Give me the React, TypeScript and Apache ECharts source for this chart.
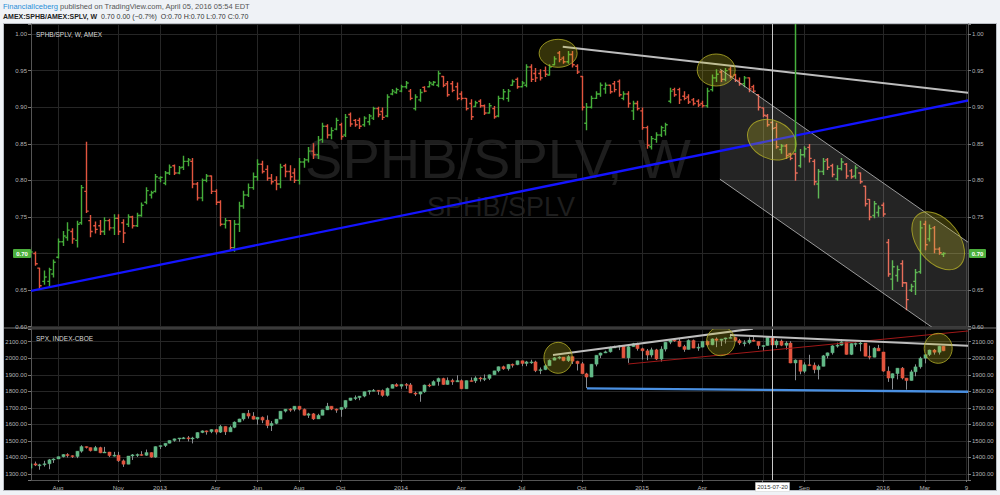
import React, { useEffect, useRef } from 'react';
import * as echarts from 'echarts';

// ---------------- DATA ----------------
const START_WEEK = '2012-06-25';

// SPHB/SPLV weekly bars: [open, high, low, close]
const ratioOHLC: number[][] = [
  [0.700, 0.708, 0.695, 0.702], [0.700, 0.702, 0.684, 0.686], [0.680, 0.680, 0.652, 0.656], [0.662, 0.676, 0.658, 0.668],
  [0.662, 0.680, 0.655, 0.678], [0.672, 0.691, 0.668, 0.688], [0.695, 0.720, 0.694, 0.716], [0.716, 0.730, 0.711, 0.724],
  [0.722, 0.742, 0.718, 0.732], [0.730, 0.734, 0.714, 0.720], [0.718, 0.744, 0.709, 0.740], [0.742, 0.793, 0.740, 0.790],
  [0.785, 0.852, 0.756, 0.758], [0.745, 0.752, 0.723, 0.730], [0.738, 0.743, 0.728, 0.733], [0.738, 0.745, 0.726, 0.730],
  [0.730, 0.749, 0.726, 0.745], [0.745, 0.747, 0.732, 0.735], [0.735, 0.753, 0.726, 0.748], [0.748, 0.753, 0.726, 0.730],
  [0.742, 0.746, 0.715, 0.728], [0.740, 0.753, 0.737, 0.750], [0.750, 0.751, 0.735, 0.738], [0.738, 0.755, 0.737, 0.752],
  [0.752, 0.769, 0.751, 0.766], [0.770, 0.790, 0.768, 0.786], [0.780, 0.785, 0.776, 0.783], [0.785, 0.808, 0.784, 0.805],
  [0.803, 0.805, 0.798, 0.804], [0.796, 0.812, 0.794, 0.810], [0.810, 0.821, 0.808, 0.818], [0.820, 0.821, 0.808, 0.810],
  [0.810, 0.819, 0.809, 0.817], [0.818, 0.833, 0.815, 0.826], [0.826, 0.830, 0.820, 0.828], [0.826, 0.830, 0.790, 0.795],
  [0.795, 0.797, 0.773, 0.776], [0.776, 0.802, 0.772, 0.800], [0.800, 0.808, 0.798, 0.806], [0.806, 0.806, 0.782, 0.785],
  [0.785, 0.787, 0.767, 0.770], [0.770, 0.772, 0.738, 0.740], [0.740, 0.748, 0.735, 0.745], [0.745, 0.745, 0.705, 0.708],
  [0.708, 0.745, 0.703, 0.740], [0.740, 0.770, 0.730, 0.765], [0.765, 0.785, 0.762, 0.780], [0.780, 0.795, 0.778, 0.790],
  [0.790, 0.810, 0.788, 0.805], [0.805, 0.828, 0.800, 0.822], [0.822, 0.826, 0.810, 0.812], [0.815, 0.820, 0.800, 0.803],
  [0.803, 0.808, 0.795, 0.798], [0.800, 0.805, 0.787, 0.795], [0.795, 0.822, 0.790, 0.818], [0.820, 0.822, 0.805, 0.812],
  [0.812, 0.820, 0.800, 0.805], [0.810, 0.816, 0.797, 0.800], [0.800, 0.830, 0.795, 0.825], [0.825, 0.830, 0.818, 0.828],
  [0.828, 0.845, 0.825, 0.840], [0.840, 0.850, 0.830, 0.835], [0.835, 0.860, 0.830, 0.855], [0.856, 0.878, 0.852, 0.874],
  [0.874, 0.876, 0.858, 0.862], [0.862, 0.872, 0.857, 0.868], [0.870, 0.885, 0.869, 0.882], [0.876, 0.878, 0.856, 0.860],
  [0.862, 0.890, 0.860, 0.886], [0.890, 0.892, 0.874, 0.877], [0.882, 0.883, 0.874, 0.876], [0.882, 0.885, 0.871, 0.874],
  [0.876, 0.887, 0.874, 0.885], [0.880, 0.890, 0.876, 0.888], [0.885, 0.900, 0.883, 0.898], [0.898, 0.900, 0.887, 0.890],
  [0.894, 0.899, 0.883, 0.886], [0.888, 0.917, 0.887, 0.914], [0.918, 0.924, 0.917, 0.922], [0.920, 0.926, 0.919, 0.924],
  [0.922, 0.930, 0.921, 0.928], [0.928, 0.935, 0.926, 0.933], [0.922, 0.924, 0.910, 0.912], [0.898, 0.917, 0.896, 0.914],
  [0.910, 0.924, 0.908, 0.920], [0.927, 0.928, 0.921, 0.922], [0.928, 0.935, 0.928, 0.933], [0.931, 0.935, 0.930, 0.934],
  [0.930, 0.949, 0.928, 0.946], [0.942, 0.942, 0.928, 0.930], [0.932, 0.935, 0.915, 0.917], [0.932, 0.935, 0.921, 0.923],
  [0.928, 0.933, 0.910, 0.912], [0.918, 0.921, 0.910, 0.912], [0.912, 0.912, 0.896, 0.898], [0.905, 0.910, 0.883, 0.887],
  [0.901, 0.908, 0.901, 0.906], [0.908, 0.910, 0.900, 0.902], [0.902, 0.903, 0.890, 0.892], [0.892, 0.905, 0.892, 0.902],
  [0.898, 0.901, 0.885, 0.887], [0.888, 0.915, 0.887, 0.912], [0.912, 0.924, 0.910, 0.921], [0.912, 0.924, 0.908, 0.922],
  [0.930, 0.937, 0.930, 0.935], [0.938, 0.940, 0.926, 0.928], [0.928, 0.935, 0.928, 0.933], [0.930, 0.958, 0.928, 0.955],
  [0.955, 0.958, 0.935, 0.938], [0.946, 0.953, 0.935, 0.940], [0.946, 0.951, 0.937, 0.940], [0.950, 0.955, 0.942, 0.945],
  [0.944, 0.958, 0.944, 0.955], [0.958, 0.969, 0.958, 0.966], [0.974, 0.976, 0.962, 0.965], [0.967, 0.969, 0.960, 0.962],
  [0.962, 0.976, 0.960, 0.972], [0.972, 0.976, 0.955, 0.958], [0.956, 0.958, 0.946, 0.948], [0.942, 0.942, 0.896, 0.900],
  [0.878, 0.905, 0.869, 0.900], [0.900, 0.915, 0.899, 0.912], [0.912, 0.921, 0.912, 0.918], [0.918, 0.933, 0.915, 0.930],
  [0.925, 0.933, 0.919, 0.930], [0.930, 0.930, 0.919, 0.921], [0.932, 0.935, 0.921, 0.924], [0.935, 0.937, 0.915, 0.917],
  [0.912, 0.921, 0.910, 0.918], [0.918, 0.921, 0.900, 0.905], [0.895, 0.908, 0.883, 0.905], [0.905, 0.908, 0.896, 0.898],
  [0.895, 0.899, 0.870, 0.872], [0.872, 0.874, 0.844, 0.848], [0.846, 0.860, 0.843, 0.857], [0.856, 0.865, 0.852, 0.862],
  [0.862, 0.874, 0.860, 0.872], [0.868, 0.878, 0.862, 0.876], [0.908, 0.926, 0.906, 0.922], [0.924, 0.926, 0.915, 0.917],
  [0.924, 0.926, 0.905, 0.910], [0.915, 0.921, 0.910, 0.912], [0.914, 0.917, 0.905, 0.907], [0.910, 0.912, 0.903, 0.905],
  [0.908, 0.910, 0.901, 0.903], [0.905, 0.908, 0.900, 0.902], [0.902, 0.926, 0.900, 0.922], [0.924, 0.944, 0.922, 0.940],
  [0.940, 0.951, 0.935, 0.945], [0.948, 0.950, 0.935, 0.938], [0.938, 0.953, 0.936, 0.950], [0.952, 0.955, 0.940, 0.942],
  [0.944, 0.945, 0.935, 0.937], [0.936, 0.940, 0.930, 0.932], [0.932, 0.942, 0.928, 0.940], [0.940, 0.940, 0.921, 0.925],
  [0.928, 0.930, 0.920, 0.922], [0.917, 0.917, 0.896, 0.900], [0.899, 0.899, 0.887, 0.889], [0.888, 0.890, 0.874, 0.876],
  [0.879, 0.880, 0.869, 0.871], [0.872, 0.878, 0.844, 0.846], [0.842, 0.849, 0.837, 0.847], [0.847, 0.849, 0.830, 0.834],
  [0.836, 0.837, 0.828, 0.830], [0.836, 0.837, 0.800, 0.810], [0.820, 0.842, 0.818, 0.835], [0.835, 0.846, 0.832, 0.843],
  [0.845, 0.849, 0.825, 0.830], [0.826, 0.828, 0.794, 0.798], [0.795, 0.815, 0.776, 0.812], [0.812, 0.830, 0.808, 0.826],
  [0.828, 0.830, 0.815, 0.818], [0.820, 0.822, 0.805, 0.808], [0.802, 0.820, 0.800, 0.816], [0.816, 0.830, 0.814, 0.825],
  [0.822, 0.823, 0.803, 0.806], [0.813, 0.815, 0.803, 0.805], [0.806, 0.820, 0.803, 0.817], [0.810, 0.810, 0.796, 0.798],
  [0.792, 0.792, 0.765, 0.768], [0.774, 0.774, 0.746, 0.750], [0.752, 0.771, 0.749, 0.768], [0.756, 0.765, 0.751, 0.762],
  [0.766, 0.769, 0.751, 0.754], [0.715, 0.719, 0.669, 0.672], [0.665, 0.690, 0.651, 0.682], [0.670, 0.683, 0.662, 0.678],
  [0.686, 0.690, 0.655, 0.660], [0.660, 0.660, 0.623, 0.637], [0.650, 0.658, 0.648, 0.655], [0.662, 0.678, 0.644, 0.674],
  [0.675, 0.744, 0.673, 0.735], [0.740, 0.744, 0.705, 0.712], [0.720, 0.739, 0.717, 0.734], [0.735, 0.737, 0.701, 0.706],
  [0.706, 0.708, 0.699, 0.701], [0.699, 0.701, 0.696, 0.700],
];

// SPX weekly candles: [open, high, low, close]
const spxOHLC: number[][] = [
  [1335, 1363, 1325, 1362], [1362, 1375, 1348, 1354], [1354, 1362, 1326, 1356], [1356, 1380, 1345, 1362],
  [1362, 1391, 1329, 1386], [1386, 1395, 1367, 1391], [1391, 1405, 1391, 1405], [1405, 1420, 1400, 1418],
  [1418, 1426, 1400, 1411], [1411, 1413, 1397, 1406], [1406, 1438, 1396, 1438], [1438, 1474, 1429, 1466],
  [1466, 1467, 1454, 1460], [1460, 1460, 1436, 1441], [1441, 1470, 1441, 1460], [1460, 1465, 1426, 1428],
  [1428, 1464, 1428, 1433], [1433, 1434, 1403, 1411], [1411, 1434, 1406, 1414], [1414, 1434, 1373, 1380],
  [1380, 1388, 1343, 1359], [1359, 1409, 1359, 1409], [1409, 1421, 1385, 1416], [1416, 1424, 1403, 1418],
  [1418, 1438, 1410, 1413], [1413, 1448, 1410, 1430], [1430, 1431, 1398, 1402], [1402, 1467, 1398, 1466],
  [1466, 1472, 1451, 1472], [1472, 1486, 1463, 1486], [1486, 1503, 1485, 1503], [1503, 1514, 1495, 1513],
  [1513, 1518, 1495, 1518], [1518, 1524, 1512, 1519], [1519, 1530, 1497, 1516], [1516, 1525, 1485, 1518],
  [1518, 1552, 1514, 1551], [1551, 1564, 1547, 1561], [1561, 1563, 1538, 1556], [1556, 1570, 1547, 1569],
  [1569, 1573, 1539, 1553], [1553, 1597, 1548, 1588], [1588, 1588, 1536, 1555], [1555, 1592, 1555, 1582],
  [1582, 1618, 1577, 1614], [1614, 1634, 1614, 1633], [1633, 1667, 1623, 1667], [1667, 1687, 1635, 1650],
  [1650, 1674, 1630, 1631], [1631, 1644, 1598, 1643], [1643, 1648, 1608, 1626], [1626, 1654, 1577, 1593],
  [1593, 1620, 1560, 1606], [1606, 1632, 1601, 1632], [1632, 1680, 1632, 1680], [1680, 1693, 1672, 1692],
  [1692, 1698, 1676, 1691], [1691, 1710, 1679, 1710], [1710, 1710, 1684, 1691], [1691, 1696, 1654, 1655],
  [1655, 1670, 1639, 1664], [1664, 1669, 1627, 1633], [1633, 1664, 1633, 1655], [1655, 1689, 1655, 1688],
  [1688, 1730, 1687, 1710], [1710, 1710, 1686, 1692], [1692, 1696, 1670, 1690], [1690, 1703, 1646, 1703],
  [1703, 1745, 1693, 1745], [1745, 1760, 1743, 1760], [1760, 1775, 1747, 1762], [1762, 1771, 1746, 1771],
  [1771, 1798, 1764, 1798], [1798, 1805, 1780, 1804], [1804, 1814, 1800, 1806], [1806, 1808, 1779, 1805],
  [1805, 1811, 1767, 1775], [1775, 1823, 1768, 1818], [1818, 1844, 1818, 1841], [1841, 1849, 1827, 1831],
  [1831, 1843, 1815, 1842], [1842, 1850, 1815, 1839], [1839, 1850, 1790, 1790], [1790, 1798, 1772, 1783],
  [1783, 1798, 1737, 1797], [1797, 1841, 1791, 1838], [1838, 1847, 1825, 1836], [1836, 1867, 1836, 1859],
  [1859, 1883, 1834, 1878], [1878, 1882, 1839, 1841], [1841, 1884, 1840, 1866], [1866, 1876, 1839, 1857],
  [1857, 1897, 1857, 1865], [1865, 1872, 1814, 1815], [1815, 1865, 1815, 1865], [1865, 1884, 1859, 1863],
  [1863, 1891, 1850, 1881], [1881, 1888, 1859, 1878], [1878, 1902, 1862, 1878], [1878, 1901, 1868, 1900],
  [1900, 1924, 1900, 1924], [1924, 1950, 1915, 1949], [1949, 1955, 1930, 1936], [1936, 1964, 1925, 1963],
  [1963, 1968, 1944, 1961], [1961, 1985, 1958, 1985], [1985, 1985, 1952, 1968], [1968, 1984, 1952, 1978],
  [1978, 1991, 1966, 1978], [1978, 1985, 1916, 1925], [1925, 1944, 1904, 1931], [1931, 1964, 1928, 1955],
  [1955, 1993, 1955, 1988], [1988, 2006, 1988, 2003], [2003, 2012, 1993, 2007], [2007, 2007, 1982, 1985],
  [1985, 2019, 1978, 2010], [2010, 2010, 1965, 1982], [1982, 1985, 1926, 1967], [1967, 1977, 1906, 1906],
  [1906, 1912, 1820, 1886], [1886, 1965, 1886, 1964], [1964, 2018, 1951, 2018], [2018, 2034, 2001, 2032],
  [2032, 2046, 2031, 2039], [2039, 2071, 2034, 2064], [2064, 2076, 2062, 2068], [2068, 2079, 2049, 2075],
  [2075, 2075, 2002, 2002], [2002, 2077, 1972, 2070], [2070, 2093, 2069, 2088], [2088, 2094, 2046, 2058],
  [2058, 2064, 1992, 2045], [2045, 2056, 1988, 2019], [2019, 2064, 2005, 2051], [2051, 2057, 1989, 1995],
  [1995, 2072, 1980, 2055], [2055, 2097, 2041, 2097], [2097, 2110, 2085, 2110], [2110, 2119, 2099, 2104],
  [2104, 2117, 2067, 2071], [2071, 2081, 2039, 2053], [2053, 2114, 2053, 2108], [2108, 2113, 2061, 2061],
  [2061, 2089, 2045, 2067], [2067, 2102, 2066, 2102], [2102, 2107, 2073, 2081], [2081, 2120, 2079, 2117],
  [2117, 2126, 2067, 2108], [2108, 2117, 2074, 2116], [2116, 2124, 2089, 2123], [2123, 2135, 2121, 2126],
  [2126, 2130, 2100, 2107], [2107, 2117, 2081, 2092], [2092, 2109, 2072, 2094], [2094, 2126, 2084, 2110],
  [2110, 2130, 2100, 2102], [2102, 2102, 2056, 2077], [2077, 2080, 2044, 2077], [2077, 2129, 2077, 2127],
  [2127, 2132, 2077, 2080], [2080, 2114, 2063, 2104], [2104, 2113, 2073, 2078], [2078, 2103, 2052, 2092],
  [2092, 2103, 1970, 1971], [1971, 1993, 1867, 1989], [1989, 1989, 1903, 1921], [1921, 1975, 1910, 1961],
  [1961, 2021, 1953, 1958], [1958, 1974, 1909, 1931], [1931, 1961, 1872, 1951], [1951, 2020, 1951, 2015],
  [2015, 2034, 1999, 2033], [2033, 2079, 2022, 2075], [2075, 2094, 2064, 2079], [2079, 2116, 2077, 2099],
  [2099, 2099, 2022, 2023], [2023, 2090, 2019, 2089], [2089, 2095, 2070, 2090], [2090, 2104, 2042, 2092],
  [2092, 2092, 2012, 2012], [2012, 2076, 1993, 2006], [2006, 2067, 2006, 2061], [2061, 2081, 2043, 2044],
  [2038, 2038, 1918, 1922], [1922, 1950, 1857, 1880], [1880, 1908, 1812, 1907], [1907, 1940, 1872, 1940],
  [1940, 1947, 1872, 1880], [1880, 1881, 1810, 1865], [1865, 1930, 1865, 1918], [1918, 1963, 1891, 1948],
  [1948, 2009, 1937, 2000], [2000, 2022, 1969, 2022], [2022, 2052, 2013, 2050], [2050, 2056, 2022, 2036],
  [2036, 2075, 2022, 2073], [2073, 2073, 2043, 2045],
];

// x-axis ticks (first week of each labelled month)
const timeTickDates = [
  '2012-08-06', '2012-11-05', '2013-01-07', '2013-04-01', '2013-06-03', '2013-08-05', '2013-10-07',
  '2014-01-06', '2014-04-07', '2014-07-07', '2014-10-06', '2015-01-05', '2015-04-06', '2015-07-06',
  '2015-09-07', '2016-01-04', '2016-03-07', '2016-05-09',
];
const timeTickLabels = [
  'Aug', 'Nov', '2013', 'Apr', 'Jun', 'Aug', 'Oct', '2014', 'Apr', 'Jul', 'Oct', '2015', 'Apr', '',
  'Sep', '2016', 'Mar', '9',
];
const crosshairDate = '2015-07-20';

// ---------------- helpers ----------------
// x axis is measured in weeks since START_WEEK
const WEEK_MS = 7 * 24 * 3600 * 1000;
const T0 = Date.parse(START_WEEK + 'T00:00:00Z');
const dateWeek = (d: string) => (Date.parse(d + 'T00:00:00Z') - T0) / WEEK_MS;

// drawings on the price panel, in (week index, value)
const ratioDrawings: any[] = [
  { kind: 'polygon', points: [[148.8, 0.9522], [202.4, 0.7152], [202.4, 0.5646], [148.8, 0.8016]], fill: 'rgba(255,255,255,0.14)' },
  { kind: 'line', from: [148.8, 0.9522], to: [202.4, 0.7152], color: 'rgba(200,200,200,0.75)', width: 1 },
  { kind: 'line', from: [148.8, 0.8016], to: [202.4, 0.5646], color: 'rgba(200,200,200,0.75)', width: 1 },
  { kind: 'line', from: [0.17, 0.6488], to: [202.4, 0.9092], color: '#1414ff', width: 2.3 },
  { kind: 'line', from: [114.9, 0.9826], to: [202.4, 0.9197], color: '#bdbdbd', width: 2 },
  { kind: 'vline', week: 165.0, toValue: 0.838, color: '#46b03c', width: 1.5 },
  { kind: 'vline', week: 160.0, color: '#c8c8c8', width: 1 },
  { kind: 'ellipse', center: [113.9, 0.9736], rx: 19, ry: 14, rotation: 0 },
  { kind: 'ellipse', center: [148.0, 0.9508], rx: 19, ry: 16, rotation: 0 },
  { kind: 'ellipse', center: [160.0, 0.8556], rx: 25.3, ry: 19, rotation: -0.44 },
  { kind: 'ellipse', center: [195.9, 0.7174], rx: 33, ry: 21, rotation: -0.9 },
];

const spxDrawings: any[] = [
  { kind: 'line', from: [129.0, 1965], to: [202.4, 2165], color: '#a01818', width: 1 },
  { kind: 'line', from: [120.1, 1818], to: [202.4, 1797.5], color: '#4a90e2', width: 2.4 },
  { kind: 'line', from: [112.8, 2019.6], to: [155.9, 2179], color: '#bdbdbd', width: 2 },
  { kind: 'line', from: [150.97, 2140.5], to: [202.4, 2075.5], color: '#bdbdbd', width: 2 },
  { kind: 'vline', week: 160.0, color: '#c8c8c8', width: 1 },
  { kind: 'ellipse', center: [113.9, 2002.6], rx: 14.2, ry: 15.5, rotation: 0 },
  { kind: 'ellipse', center: [149.0, 2103], rx: 14.2, ry: 14.5, rotation: 0 },
  { kind: 'ellipse', center: [195.9, 2060], rx: 14, ry: 15, rotation: 0 },
];

const FONT = '"Liberation Sans", Arial, sans-serif';
const BAR_UP = '#45ad3a';
const BAR_DOWN = '#e2553f';
const C_UP = '#62b987';
const C_DOWN = '#e2553f';
const WICK = '#8a8d91';
const ELL_FILL = 'rgba(200,195,35,0.26)';
const ELL_STROKE = 'rgba(180,175,40,0.8)';

const X_MIN = 0.173;
const X_MAX = 202.33;

function renderOHLC(params: any, api: any) {
  const t = api.value(0);
  const o = api.value(1), h = api.value(2), l = api.value(3), c = api.value(4);
  const pO = api.coord([t, o]);
  const yH = api.coord([t, h])[1];
  const yL = api.coord([t, l])[1];
  const yC = api.coord([t, c])[1];
  const x = Math.round(pO[0]) + 0.5;
  const color = c >= o ? BAR_UP : BAR_DOWN;
  const st = { stroke: color, lineWidth: 1.4 };
  return {
    type: 'group',
    children: [
      { type: 'line', shape: { x1: x, y1: yH - 0.5, x2: x, y2: yL + 0.5 }, style: st },
      { type: 'line', shape: { x1: x - 2.2, y1: pO[1], x2: x, y2: pO[1] }, style: st },
      { type: 'line', shape: { x1: x, y1: yC, x2: x + 2.2, y2: yC }, style: st },
    ],
  };
}

function renderCandle(params: any, api: any) {
  const t = api.value(0);
  const o = api.value(1), h = api.value(2), l = api.value(3), c = api.value(4);
  const pO = api.coord([t, o]);
  const yH = api.coord([t, h])[1];
  const yL = api.coord([t, l])[1];
  const yC = api.coord([t, c])[1];
  const x = Math.round(pO[0]) + 0.5;
  const up = c >= o;
  const fill = up ? C_UP : C_DOWN;
  const top = Math.min(pO[1], yC);
  const hgt = Math.max(1, Math.abs(pO[1] - yC));
  return {
    type: 'group',
    children: [
      { type: 'line', shape: { x1: x, y1: yH, x2: x, y2: yL }, style: { stroke: WICK, lineWidth: 1 } },
      { type: 'rect', shape: { x: x - 1.6, y: top, width: 3.2, height: hgt }, style: { fill, stroke: fill, lineWidth: 0.4 } },
    ],
  };
}

function makeDrawingRenderer(list: any[]) {
  return (params: any, api: any) => {
    const d = list[params.dataIndex];
    const cs = params.coordSys;
    const P = (p: number[]) => api.coord([p[0], p[1]]);
    if (d.kind === 'line') {
      const a = P(d.from), b = P(d.to);
      return { type: 'line', shape: { x1: a[0], y1: a[1], x2: b[0], y2: b[1] }, style: { stroke: d.color, lineWidth: d.width } };
    }
    if (d.kind === 'polygon') {
      return { type: 'polygon', shape: { points: d.points.map(P) }, style: { fill: d.fill } };
    }
    if (d.kind === 'vline') {
      const x = Math.round(P([d.week, 1])[0]) + 0.5;
      const y2 = d.toValue != null ? P([d.week, d.toValue])[1] : cs.y + cs.height;
      return { type: 'line', shape: { x1: x, y1: cs.y, x2: x, y2 }, style: { stroke: d.color, lineWidth: d.width } };
    }
    const c = P(d.center);
    return {
      type: 'ellipse', x: c[0], y: c[1], rotation: d.rotation || 0,
      shape: { cx: 0, cy: 0, rx: d.rx, ry: d.ry },
      style: { fill: ELL_FILL, stroke: ELL_STROKE, lineWidth: 1 },
    };
  };
}

function renderGridLine(params: any, api: any) {
  const cs = params.coordSys;
  const x = Math.round(api.coord([api.value(0), api.value(1)])[0]) + 0.5;
  return { type: 'line', shape: { x1: x, y1: cs.y, x2: x, y2: cs.y + cs.height }, style: { stroke: '#262626', lineWidth: 1 } };
}

const tickWeeks = timeTickDates.map(dateWeek);
const xLabel = (v: number) => {
  const k = tickWeeks.findIndex((t) => Math.abs(t - v) < 0.05);
  return k >= 0 ? timeTickLabels[k] : '';
};

const lastClose = ratioOHLC[ratioOHLC.length - 1][3];
const lastLabel = lastClose.toFixed(2);

const fmtRatio = (v: number) => {
  const k = Math.round(v / 0.05);
  if (Math.abs(v - k * 0.05) > 1e-6) return '';
  if (Math.abs(v - Number(lastLabel)) < 1e-6) return '';
  return v.toFixed(2);
};
const fmtSpx = (v: number) => {
  const k = Math.round(v / 100);
  if (Math.abs(v - k * 100) > 1e-6) return '';
  return v.toFixed(2);
};

function buildOption() {
  const ratioData = ratioOHLC.map((r, i) => [i, r[0], r[1], r[2], r[3]]);
  const spxData = spxOHLC.map((r, i) => [i, r[0], r[1], r[2], r[3]]);
  const axisLabelStyle = { color: '#b4b4b4', fontSize: 6, fontFamily: FONT };
  const yCommon = (grid: number, pos: string, min: number, max: number, split: number, fmt: any, showSplit: boolean) => ({
    type: 'value', gridIndex: grid, position: pos, min, max, splitNumber: split,
    axisLine: { show: true, lineStyle: { color: '#555', width: 1 } },
    axisTick: { show: true, length: 3, lineStyle: { color: '#777' } },
    axisLabel: { ...axisLabelStyle, margin: 4, formatter: fmt },
    splitLine: { show: showSplit, lineStyle: { color: '#262626', width: 1 } },
  });

  const labelSeriesRender = (params: any, api: any) => {
    const cs = params.coordSys;
    const y = api.coord([api.value(0), api.value(1)])[1];
    const box = (x: number, w: number) => ({
      type: 'group',
      children: [
        { type: 'rect', shape: { x, y: y - 4.5, width: w, height: 9, r: 1 }, style: { fill: '#4caf3c' } },
        {
          type: 'text', x: x + w / 2, y,
          style: { text: lastLabel, fill: '#ffffff', font: `bold 6px ${FONT}`, textAlign: 'center', align: 'center', textVerticalAlign: 'middle', verticalAlign: 'middle' },
        },
      ],
    });
    return { type: 'group', children: [box(cs.x - 18, 18), box(cs.x + cs.width + 1, 17)] };
  };

  const crossLabelRender = (params: any, api: any) => {
    const cs = params.coordSys;
    const x = Math.round(api.coord([api.value(0), api.value(1)])[0]) + 0.5;
    const y = cs.y + cs.height + 7;
    return {
      type: 'group',
      children: [
        { type: 'rect', shape: { x: x - 17, y: y - 4.5, width: 34, height: 9 }, style: { fill: '#ffffff', stroke: '#cfcfcf', lineWidth: 0.5 } },
        {
          type: 'text', x, y,
          style: { text: crosshairDate, fill: '#333', font: `6px ${FONT}`, textAlign: 'center', align: 'center', textVerticalAlign: 'middle', verticalAlign: 'middle' },
        },
      ],
    };
  };

  return {
    animation: false,
    backgroundColor: '#eff2f6',
    textStyle: { fontFamily: FONT },
    graphic: {
      elements: [
        { type: 'rect', z: -2, shape: { x: 3.5, y: 23.5, width: 993, height: 467 }, style: { fill: '#000000', stroke: '#b9bdc4', lineWidth: 1 } },
        { type: 'rect', z: -1, shape: { x: 4, y: 327, width: 992, height: 2 }, style: { fill: '#3a3a3a' } },
        {
          type: 'text', z: -1, x: 498, y: 158,
          style: { text: 'SPHB/SPLV, W', fill: '#1e1e1e', font: `56px ${FONT}`, textAlign: 'center', align: 'center', textVerticalAlign: 'middle', verticalAlign: 'middle' },
        },
        {
          type: 'text', z: -1, x: 501, y: 207,
          style: { text: 'SPHB/SPLV', fill: '#1e1e1e', font: `27px ${FONT}`, textAlign: 'center', align: 'center', textVerticalAlign: 'middle', verticalAlign: 'middle' },
        },
        {
          type: 'text', z: 10, x: 3, y: 6,
          style: {
            text: '{a|FinancialIceberg}{b| published on TradingView.com, April 05, 2016 05:54 EDT}',
            textVerticalAlign: 'middle', verticalAlign: 'middle',
            rich: {
              a: { fill: '#2a8fd8', fontSize: 7.5, fontFamily: FONT },
              b: { fill: '#555555', fontSize: 7.5, fontFamily: FONT },
            },
          },
        },
        {
          type: 'text', z: 10, x: 3, y: 16,
          style: {
            text: '{a|AMEX:SPHB/AMEX:SPLV, W}{b|  0.70 0.00 (−0.7%)  O:0.70 H:0.70 L:0.70 C:0.70}',
            textVerticalAlign: 'middle', verticalAlign: 'middle',
            rich: {
              a: { fill: '#222222', fontSize: 7, fontWeight: 'bold', fontFamily: FONT },
              b: { fill: '#333333', fontSize: 7, fontFamily: FONT },
            },
          },
        },
        {
          type: 'text', z: 10, x: 36, y: 34,
          style: { text: 'SPHB/SPLV, W, AMEX', fill: '#d8d8d8', font: `6.5px ${FONT}`, textVerticalAlign: 'middle', verticalAlign: 'middle' },
        },
        {
          type: 'text', z: 10, x: 36, y: 338,
          style: { text: 'SPX, INDEX-CBOE', fill: '#d8d8d8', font: `6.5px ${FONT}`, textVerticalAlign: 'middle', verticalAlign: 'middle' },
        },
      ],
    },
    grid: [
      { left: 31, top: 24, width: 937, height: 302.7, show: false },
      { left: 31, top: 329, width: 937, height: 151, show: false },
    ],
    xAxis: [
      {
        type: 'value', gridIndex: 0, min: X_MIN, max: X_MAX,
        axisLine: { show: false }, axisTick: { show: false }, axisLabel: { show: false }, splitLine: { show: false },
      },
      {
        type: 'value', gridIndex: 1, min: X_MIN, max: X_MAX,
        axisLine: { show: true, onZero: false, lineStyle: { color: '#555' } },
        axisTick: { show: true, customValues: tickWeeks, length: 2, lineStyle: { color: '#777' } },
        axisLabel: { show: true, customValues: tickWeeks, formatter: xLabel, color: '#b4b4b4', fontSize: 6.2, fontFamily: FONT, margin: 4 },
        splitLine: { show: false },
      },
    ],
    yAxis: [
      yCommon(0, 'left', 0.6, 1.01367, 8, fmtRatio, true),
      yCommon(0, 'right', 0.6, 1.01367, 8, fmtRatio, false),
      yCommon(1, 'left', 1263.8, 2176.8, 9, fmtSpx, true),
      yCommon(1, 'right', 1263.8, 2176.8, 9, fmtSpx, false),
    ],
    series: [
      {
        type: 'custom', name: 'grid0', xAxisIndex: 0, yAxisIndex: 0, z: 1, silent: true, clip: true,
        data: tickWeeks.map((t) => [t, 0.8]), encode: { x: 0, y: 1 }, renderItem: renderGridLine,
      },
      {
        type: 'custom', name: 'grid1', xAxisIndex: 1, yAxisIndex: 2, z: 1, silent: true, clip: true,
        data: tickWeeks.map((t) => [t, 1700]), encode: { x: 0, y: 1 }, renderItem: renderGridLine,
      },
      {
        type: 'custom', name: 'SPHB/SPLV', xAxisIndex: 0, yAxisIndex: 0, z: 3, clip: true,
        data: ratioData, encode: { x: 0, y: [1, 2, 3, 4] }, renderItem: renderOHLC,
      },
      {
        type: 'custom', name: 'SPX', xAxisIndex: 1, yAxisIndex: 2, z: 3, clip: true,
        data: spxData, encode: { x: 0, y: [1, 2, 3, 4] }, renderItem: renderCandle,
      },
      {
        type: 'custom', name: 'ratioDrawings', xAxisIndex: 0, yAxisIndex: 0, z: 4, silent: true, clip: true,
        data: ratioDrawings.map(() => [X_MIN, 0.8]), encode: { x: 0, y: 1 }, renderItem: makeDrawingRenderer(ratioDrawings),
      },
      {
        type: 'custom', name: 'spxDrawings', xAxisIndex: 1, yAxisIndex: 2, z: 4, silent: true, clip: true,
        data: spxDrawings.map(() => [X_MIN, 1700]), encode: { x: 0, y: 1 }, renderItem: makeDrawingRenderer(spxDrawings),
      },
      {
        type: 'custom', name: 'lastLabel', xAxisIndex: 0, yAxisIndex: 0, z: 6, silent: true, clip: false,
        data: [[ratioOHLC.length - 1, lastClose]], encode: { x: 0, y: 1 }, renderItem: labelSeriesRender,
      },
      {
        type: 'custom', name: 'crossLabel', xAxisIndex: 1, yAxisIndex: 2, z: 6, silent: true, clip: false,
        data: [[dateWeek(crosshairDate), 1700]], encode: { x: 0, y: 1 }, renderItem: crossLabelRender,
      },
    ],
  };
}

export default function App() {
  const ref = useRef<HTMLDivElement>(null);
  useEffect(() => {
    if (!ref.current) return;
    const chart = echarts.init(ref.current, undefined, { renderer: 'svg' });
    chart.setOption(buildOption() as any);
    return () => chart.dispose();
  }, []);
  return (
    <div
      ref={ref}
      style={{ position: 'absolute', left: 0, top: 0, width: 1000, height: 495 }}
    />
  );
}
